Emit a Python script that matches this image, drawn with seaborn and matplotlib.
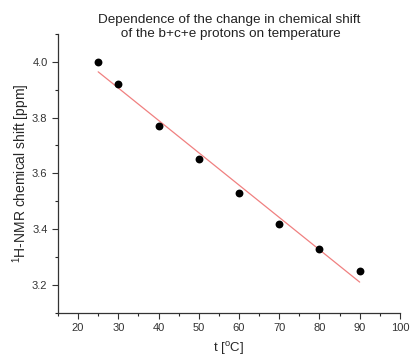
import numpy as np
import pandas as pd
import seaborn as sns
import matplotlib.pyplot as plt
from matplotlib.ticker import MultipleLocator

# Data
temperature = [25, 30, 40, 50, 60, 70, 80, 90]
shift_ppm = [4.00, 3.92, 3.77, 3.65, 3.53, 3.42, 3.33, 3.25]

df = pd.DataFrame({'t': temperature, 'shift': shift_ppm})

sns.set_style('ticks')
plt.rcParams['font.family'] = ['Liberation Sans', 'DejaVu Sans']
plt.rcParams['mathtext.default'] = 'regular'

fig = plt.figure(figsize=(4.11, 3.6), dpi=100)
ax = fig.add_axes([0.141, 0.131, 0.832, 0.775])

# Linear fit line + points
sns.regplot(data=df, x='t', y='shift', ax=ax, ci=None, scatter=False,
            line_kws={'color': '#f08080', 'lw': 0.9})
sns.scatterplot(data=df, x='t', y='shift', ax=ax, color='black', s=32,
                edgecolor='black', linewidth=0, zorder=3)

ax.set_xlim(15, 100)
ax.set_ylim(3.1, 4.1)
ax.xaxis.set_minor_locator(MultipleLocator(5))
ax.yaxis.set_major_locator(MultipleLocator(0.2))
ax.yaxis.set_minor_locator(MultipleLocator(0.1))
ax.set_xticks(range(20, 101, 10))
ax.yaxis.set_major_formatter(plt.FormatStrFormatter('%.1f'))

ax.tick_params(which='major', direction='out', length=4, width=0.8, labelsize=8, colors='#333333')
ax.tick_params(which='minor', direction='out', length=2.5, width=0.8)
sns.despine(ax=ax)
for s in ['left', 'bottom']:
    ax.spines[s].set_linewidth(0.9)
    ax.spines[s].set_color('#333333')

ax.set_xlabel('t [$^o$C]', fontsize=9.5, labelpad=5)
ax.set_ylabel('$^1$H-NMR chemical shift [ppm]', fontsize=10, labelpad=0)
ax.set_title('Dependence of the change in chemical shift\n of the b+c+e protons on temperature',
             fontsize=9.7, y=1.0, pad=-2, linespacing=1.15, color='#222222')

fig.savefig('out.png', dpi=100)
